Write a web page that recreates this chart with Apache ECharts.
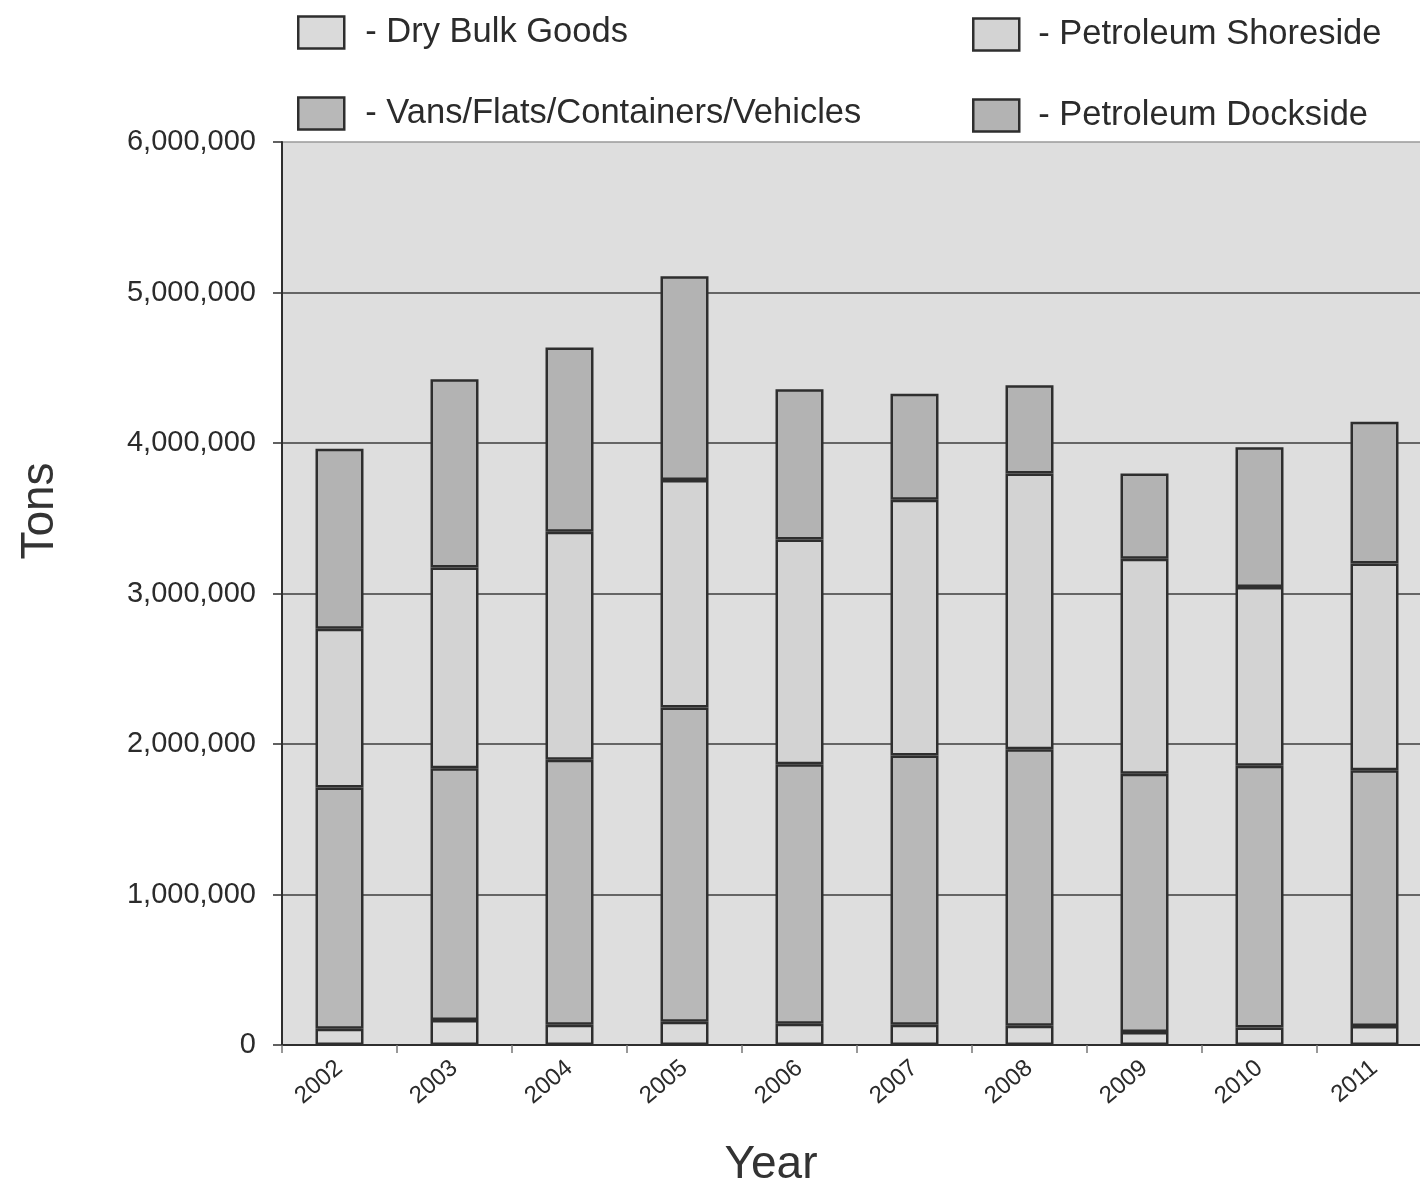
<!DOCTYPE html>
<html>
<head>
<meta charset="utf-8">
<title>Tons by Year</title>
<script src="https://cdn.jsdelivr.net/npm/echarts@6/dist/echarts.min.js"></script>
<style>
  html, body { margin: 0; padding: 0; background: #ffffff; overflow: hidden; }
  /* the plot runs slightly past the right edge of the page */
  #chart { width: 1432px; height: 1188px; }
</style>
</head>
<body>
<div id="chart"></div>
<script>
// Annual tonnage by commodity group, stacked bottom to top
const years = ['2002', '2003', '2004', '2005', '2006', '2007', '2008', '2009', '2010', '2011'];
const dryBulk = [108000, 166000, 135000, 154000, 142000, 134000, 128000, 87000, 117000, 127000];
const vans = [1603000, 1673000, 1761000, 2089000, 1723000, 1790000, 1837000, 1715000, 1739000, 1699000];
const shoreside = [1055000, 1334000, 1514000, 1511000, 1493000, 1699000, 1832000, 1429000, 1188000, 1374000];
const dockside = [1195000, 1251000, 1224000, 1354000, 999000, 704000, 587000, 567000, 928000, 941000];
const yTicks = [0, 1000000, 2000000, 3000000, 4000000, 5000000, 6000000];

const FONT = '"Liberation Sans", Arial, Helvetica, sans-serif';
const INK = '#2b2b2b';
const EDGE = '#2e2e2e';

function barSeries(name, values, fill) {
  return {
    name: name,
    type: 'bar',
    stack: 'tons',
    data: values,
    barWidth: 48,
    itemStyle: { color: fill, borderColor: EDGE, borderWidth: 2.5 },
    emphasis: { disabled: true }
  };
}

function legendBlock(names, left, top, pad) {
  return {
    data: names.map(n => ({ name: n, icon: 'rect' })),
    orient: 'vertical',
    left: left,
    top: top,
    itemWidth: 46,
    itemHeight: 32,
    itemGap: 46,
    selectedMode: false,
    formatter: name => '- ' + name,
    itemStyle: { borderColor: EDGE, borderWidth: 2.5 },
    textStyle: {
      fontFamily: FONT,
      fontSize: 34.5,
      color: INK,
      padding: [0, 0, 0, pad]
    }
  };
}

const chart = echarts.init(document.getElementById('chart'), null, { renderer: 'canvas' });

chart.setOption({
  animation: false,
  backgroundColor: '#ffffff',
  textStyle: { fontFamily: FONT },
  legend: [
    legendBlock(['Dry Bulk Goods', 'Vans/Flats/Containers/Vehicles'], 292, 10, 16),
    legendBlock(['Petroleum Shoreside', 'Petroleum Dockside'], 967, 12, 14)
  ],
  grid: {
    left: 282,
    right: 0,
    top: 142,
    bottom: 143,
    show: true,
    backgroundColor: '#dedede',
    borderWidth: 0
  },
  xAxis: {
    type: 'category',
    data: years,
    axisLine: { show: true, lineStyle: { color: EDGE, width: 2 } },
    axisTick: { show: true, length: 8, lineStyle: { color: '#777', width: 1.5 } },
    axisLabel: {
      rotate: 40,
      margin: 20,
      fontFamily: FONT,
      fontSize: 24,
      color: INK
    },
    splitLine: { show: false }
  },
  yAxis: {
    type: 'value',
    min: 0,
    max: 6000000,
    interval: 1000000,
    axisLine: { show: true, lineStyle: { color: EDGE, width: 2 } },
    axisTick: { show: true, length: 9, lineStyle: { color: EDGE, width: 1.5 } },
    axisLabel: {
      margin: 26,
      fontFamily: FONT,
      fontSize: 29,
      color: INK,
      formatter: v => yTicks.includes(v) ? v.toLocaleString('en-US') : ''
    },
    splitLine: {
      show: true,
      lineStyle: {
        color: ['#3d3d3d', '#3d3d3d', '#3d3d3d', '#3d3d3d', '#3d3d3d', '#3d3d3d', '#9a9a9a'],
        width: 1.5
      }
    }
  },
  graphic: [
    {
      type: 'text',
      x: 40,
      y: 511,
      rotation: Math.PI / 2,
      style: {
        text: 'Tons',
        fontFamily: FONT,
        fontSize: 46,
        fill: '#333333',
        align: 'center',
        verticalAlign: 'middle'
      }
    },
    {
      type: 'text',
      x: 771,
      y: 1165,
      style: {
        text: 'Year',
        fontFamily: FONT,
        fontSize: 46,
        fill: '#333333',
        align: 'center',
        verticalAlign: 'middle'
      }
    }
  ],
  series: [
    barSeries('Dry Bulk Goods', dryBulk, '#dadada'),
    barSeries('Vans/Flats/Containers/Vehicles', vans, '#b8b8b8'),
    barSeries('Petroleum Shoreside', shoreside, '#d3d3d3'),
    barSeries('Petroleum Dockside', dockside, '#b3b3b3')
  ]
});
</script>
</body>
</html>
